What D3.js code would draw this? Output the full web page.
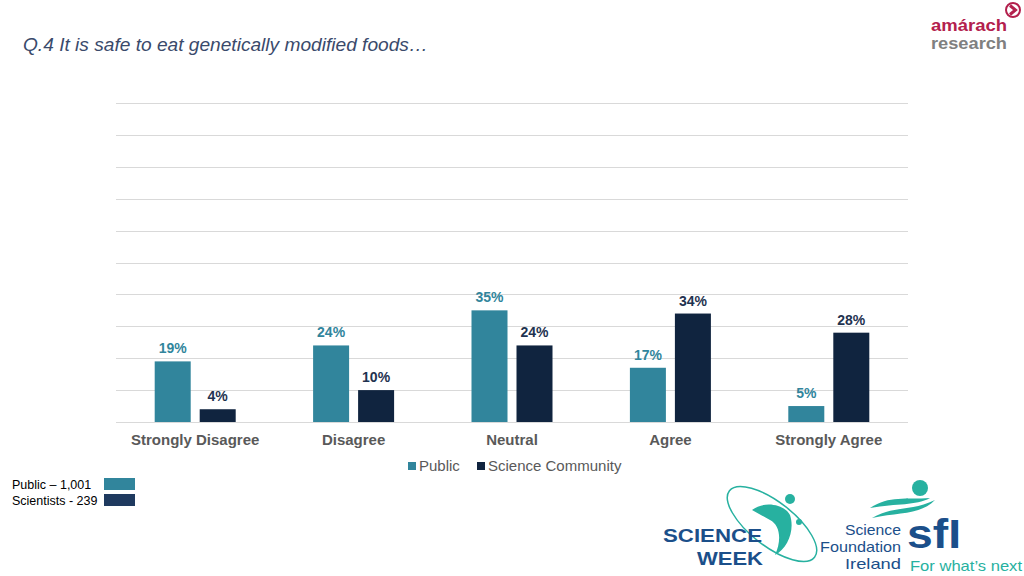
<!DOCTYPE html>
<html><head><meta charset="utf-8">
<script src="https://cdn.jsdelivr.net/npm/d3@7"></script>
<style>body{margin:0;background:#fff;}svg{display:block;font-family:Arial,"Liberation Sans",sans-serif;}</style>
</head><body>
<svg id="c" width="1024" height="576"></svg>
<script>
const categories = ["Strongly Disagree","Disagree","Neutral","Agree","Strongly Agree"];
const seriesNames = ["Public","Science Community"];
const publicValues = [19,24,35,17,5];
const scienceValues = [4,10,24,34,28];
const yTicks = [0,10,20,30,40,50,60,70,80,90,100];
const sampleLabels = ["Public \u2013 1,001","Scientists - 239"];

const colors = ["#31859c","#10243f"];
const labelColors = ["#31859c","#1f3350"];
const svg = d3.select("#c");
const m = {l:116, r:908, t:103, b:422};
const x = d3.scaleBand().domain(categories).range([m.l,m.r]);
const y = d3.scaleLinear().domain([0,100]).range([m.b,m.t]);

// title
svg.append("text").attr("x",23).attr("y",51).attr("font-size",19).attr("font-style","italic")
  .attr("fill","#3a4a6b").attr("textLength",405).attr("lengthAdjust","spacingAndGlyphs")
  .text("Q.4 It is safe to eat genetically modified foods\u2026");

// gridlines
svg.append("g").selectAll("line").data(yTicks).join("line")
  .attr("x1",m.l).attr("x2",m.r).attr("y1",d=>Math.round(y(d))+0.5).attr("y2",d=>Math.round(y(d))+0.5)
  .attr("stroke","#d9d9d9").attr("stroke-width",1);

const bw = 36, gap = 9;
const data = categories.map((c,i)=>({c, vals:[publicValues[i],scienceValues[i]]}));
const g = svg.append("g");
data.forEach(d=>{
  const cx = x(d.c) + x.bandwidth()/2;
  d.vals.forEach((v,j)=>{
    const bx = j===0 ? cx - gap/2 - bw : cx + gap/2;
    g.append("rect").attr("x",bx).attr("y",y(v)).attr("width",bw).attr("height",y(0)-y(v)).attr("fill",colors[j]);
    g.append("text").attr("x",bx+bw/2).attr("y",y(v)-8).attr("text-anchor","middle")
      .attr("font-size",14).attr("font-weight","bold").attr("fill",labelColors[j]).text(v+"%");
  });
});

// x axis labels
const xa = svg.append("g").attr("transform",`translate(0,${m.b})`).call(d3.axisBottom(x).tickSize(0).tickPadding(12));
xa.select(".domain").remove();
xa.selectAll("text").attr("font-size",15).attr("font-weight","bold").attr("fill","#595959").attr("font-family","Arial,'Liberation Sans',sans-serif");

// legend
const lg = svg.append("g");
const legX = [408,477];
seriesNames.forEach((n,i)=>{
  lg.append("rect").attr("x",legX[i]).attr("y",462).attr("width",8).attr("height",8).attr("fill",colors[i]);
  lg.append("text").attr("x",legX[i]+11).attr("y",471).attr("font-size",15).attr("fill","#595959").text(n);
});

// sample sizes
const sCol = ["#31859c","#1f3a5f"];
sampleLabels.forEach((t,i)=>{
  svg.append("text").attr("x",12).attr("y",489+i*16).attr("font-size",12.5).attr("fill","#000").text(t);
  svg.append("rect").attr("x",104).attr("y",478+i*16).attr("width",31).attr("height",12).attr("fill",sCol[i]);
});

// amarach logo
const al = svg.append("g");
al.append("text").attr("x",931).attr("y",31).attr("font-size",16).attr("font-weight","bold").attr("fill","#b3204d")
  .attr("textLength",76).attr("lengthAdjust","spacingAndGlyphs").text("amárach");
al.append("text").attr("x",931).attr("y",49).attr("font-size",16).attr("font-weight","bold").attr("fill","#808080")
  .attr("textLength",76).attr("lengthAdjust","spacingAndGlyphs").text("research");
al.append("circle").attr("cx",1013).attr("cy",10).attr("r",7).attr("fill","none").attr("stroke","#b3204d").attr("stroke-width",2);
al.append("path").attr("d","M1010,5.5 L1015.5,10 L1010,14.5").attr("fill","none").attr("stroke","#b3204d").attr("stroke-width",3);

// science week logo
const sw = svg.append("g");
sw.append("ellipse").attr("cx",772).attr("cy",524).attr("rx",54).attr("ry",22).attr("transform","rotate(38 772 524)")
  .attr("fill","none").attr("stroke","#27b1a0").attr("stroke-width",1.5);
sw.append("path").attr("d","M752,510 C765,500 785,505 790,515 C795,530 788,548 775,555 C782,540 780,525 770,520 Z").attr("fill","#27b1a0");
sw.append("circle").attr("cx",790).attr("cy",499).attr("r",5).attr("fill","#27b1a0");
sw.append("circle").attr("cx",799).attr("cy",522).attr("r",3).attr("fill","#27b1a0");
sw.append("text").attr("x",663).attr("y",542).attr("font-size",19).attr("font-weight","bold").attr("fill","#1b4f8a")
  .attr("textLength",99).attr("lengthAdjust","spacingAndGlyphs").text("SCIENCE");
sw.append("text").attr("x",697).attr("y",565).attr("font-size",19).attr("font-weight","bold").attr("fill","#1b4f8a")
  .attr("textLength",66).attr("lengthAdjust","spacingAndGlyphs").text("WEEK");

// SFI logo
const sf = svg.append("g");
sf.append("path").attr("d","M870,508 C890,495 905,500 930,498 C915,506 898,503 870,508 Z").attr("fill","#27b1a0");
sf.append("path").attr("d","M872,518 C895,505 910,512 935,500 C920,515 900,512 872,518 Z").attr("fill","#27b1a0");
sf.append("circle").attr("cx",920).attr("cy",488).attr("r",8).attr("fill","#27b1a0");
const sfLines = ["Science","Foundation","Ireland"];
const sfLens = [56,81,56];
sfLines.forEach((t,i)=>{
  sf.append("text").attr("x",901-sfLens[i]).attr("y",535+i*17).attr("font-size",14.5).attr("fill","#1b4f8a")
    .attr("textLength",sfLens[i]).attr("lengthAdjust","spacingAndGlyphs").text(t);
});
sf.append("text").attr("x",907).attr("y",548).attr("font-size",40).attr("font-weight","bold").attr("fill","#1b4f8a")
  .attr("textLength",54).attr("lengthAdjust","spacingAndGlyphs").text("sfI");
sf.append("text").attr("x",910).attr("y",571).attr("font-size",14.5).attr("fill","#27b1a0")
  .attr("textLength",112).attr("lengthAdjust","spacingAndGlyphs").text("For what\u2019s next");
</script>
</body></html>
